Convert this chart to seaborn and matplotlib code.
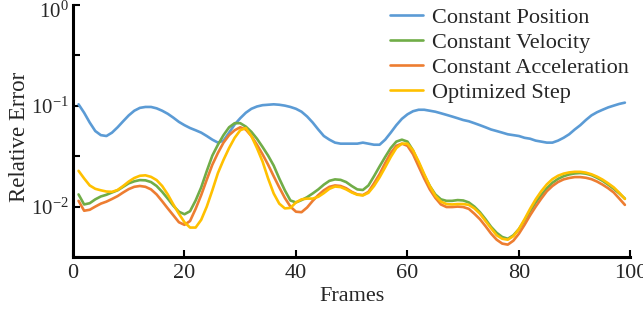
import numpy as np
import pandas as pd
import seaborn as sns
import matplotlib.pyplot as plt
from matplotlib.ticker import FixedLocator, FuncFormatter
from matplotlib.transforms import ScaledTranslation

# one value per frame, 1..99
frames = list(range(1, 100))

constant_position = [
    0.103, 0.085, 0.068, 0.056, 0.051, 0.050, 0.054, 0.061, 0.070, 0.080,
    0.089, 0.095, 0.097, 0.097, 0.094, 0.089, 0.083, 0.076, 0.069, 0.064,
    0.060, 0.057, 0.054, 0.050, 0.046, 0.043, 0.045, 0.054, 0.065, 0.075,
    0.085, 0.093, 0.098, 0.101, 0.102, 0.103, 0.102, 0.100, 0.097, 0.093,
    0.087, 0.078, 0.068, 0.058, 0.050, 0.046, 0.043, 0.042, 0.042, 0.042,
    0.042, 0.043, 0.042, 0.041, 0.041, 0.046, 0.054, 0.064, 0.074, 0.082,
    0.088, 0.091, 0.091, 0.089, 0.087, 0.084, 0.081, 0.078, 0.075, 0.072,
    0.070, 0.067, 0.064, 0.061, 0.058, 0.056, 0.054, 0.052, 0.051, 0.050,
    0.048, 0.047, 0.045, 0.044, 0.043, 0.043, 0.045, 0.048, 0.052, 0.058,
    0.064, 0.072, 0.080, 0.086, 0.091, 0.096, 0.100, 0.104, 0.107,
]
constant_velocity = [
    0.0132, 0.0105, 0.0108, 0.0118, 0.0126, 0.0131, 0.0138, 0.0145, 0.0157, 0.0170,
    0.0178, 0.0183, 0.0182, 0.0175, 0.0160, 0.0140, 0.0120, 0.0102, 0.0089, 0.0084,
    0.0090, 0.0115, 0.0155, 0.0225, 0.0320, 0.0410, 0.0510, 0.0610, 0.0670, 0.0670,
    0.0620, 0.0550, 0.0470, 0.0390, 0.0320, 0.0255, 0.0190, 0.0145, 0.0115, 0.0110,
    0.0116, 0.0124, 0.0135, 0.0148, 0.0165, 0.0180, 0.0186, 0.0184, 0.0175, 0.0160,
    0.0148, 0.0146, 0.0162, 0.0200, 0.0250, 0.0310, 0.0380, 0.0440, 0.0460, 0.0440,
    0.0360, 0.0270, 0.0205, 0.0160, 0.0132, 0.0118, 0.0114, 0.0114, 0.0116, 0.0115,
    0.0110, 0.0100, 0.0088, 0.0075, 0.0063, 0.0055, 0.0050, 0.0048, 0.0052, 0.0060,
    0.0073, 0.0090, 0.0110, 0.0130, 0.0152, 0.0172, 0.0188, 0.0200, 0.0208, 0.0213,
    0.0215, 0.0212, 0.0205, 0.0193, 0.0180, 0.0165, 0.0150, 0.0135, 0.0120,
]
constant_acceleration = [
    0.0114, 0.0091, 0.0093, 0.0100, 0.0107, 0.0112, 0.0119, 0.0127, 0.0138, 0.0149,
    0.0157, 0.0160, 0.0157, 0.0148, 0.0132, 0.0113, 0.0096, 0.0082, 0.0070, 0.0066,
    0.0072, 0.0095, 0.0130, 0.0185, 0.0260, 0.0340, 0.0430, 0.0510, 0.0570, 0.0610,
    0.0580, 0.0500, 0.0410, 0.0330, 0.0260, 0.0200, 0.0155, 0.0122, 0.0100, 0.0089,
    0.0088, 0.0098, 0.0114, 0.0130, 0.0145, 0.0157, 0.0162, 0.0160, 0.0152, 0.0140,
    0.0132, 0.0130, 0.0140, 0.0170, 0.0210, 0.0270, 0.0340, 0.0400, 0.0420, 0.0400,
    0.0330, 0.0250, 0.0190, 0.0148, 0.0122, 0.0105, 0.0099, 0.0099, 0.0100, 0.0099,
    0.0095, 0.0085, 0.0075, 0.0064, 0.0054, 0.0047, 0.0043, 0.0042, 0.0046, 0.0054,
    0.0066, 0.0082, 0.0100, 0.0120, 0.0142, 0.0160, 0.0175, 0.0186, 0.0192, 0.0196,
    0.0196, 0.0193, 0.0187, 0.0177, 0.0165, 0.0152, 0.0138, 0.0120, 0.0104,
]
optimized_step = [
    0.0226, 0.0190, 0.0162, 0.0150, 0.0145, 0.0141, 0.0140, 0.0146, 0.0160, 0.0177,
    0.0192, 0.0202, 0.0204, 0.0197, 0.0183, 0.0160, 0.0132, 0.0105, 0.0085, 0.0070,
    0.0062, 0.0062, 0.0074, 0.0100, 0.0145, 0.0215, 0.0290, 0.0380, 0.0480, 0.0570,
    0.0600, 0.0500, 0.0380, 0.0280, 0.0190, 0.0135, 0.0107, 0.0096, 0.0097, 0.0110,
    0.0118, 0.0120, 0.0120, 0.0125, 0.0136, 0.0150, 0.0158, 0.0156, 0.0148, 0.0138,
    0.0131, 0.0129, 0.0137, 0.0160, 0.0195, 0.0245, 0.0310, 0.0380, 0.0420, 0.0420,
    0.0360, 0.0280, 0.0210, 0.0160, 0.0128, 0.0112, 0.0106, 0.0105, 0.0106, 0.0106,
    0.0104, 0.0096, 0.0085, 0.0072, 0.0061, 0.0052, 0.0048, 0.0047, 0.0051, 0.0060,
    0.0075, 0.0095, 0.0118, 0.0142, 0.0166, 0.0187, 0.0202, 0.0212, 0.0218, 0.0221,
    0.0221, 0.0217, 0.0209, 0.0198, 0.0185, 0.0170, 0.0155, 0.0137, 0.0119,
]

series_names = ['Constant Position', 'Constant Velocity', 'Constant Acceleration', 'Optimized Step']
series_colors = ['#5B9BD5', '#70AD47', '#ED7D31', '#FFC000']
x_ticks = [0, 20, 40, 60, 80, 100]
y_major = [1e-2, 1e-1, 1e0]
y_minor = [10 ** -2.5, 10 ** -1.5, 10 ** -0.5]

df = pd.DataFrame({
    'Frames': frames * 4,
    'Relative Error': constant_position + constant_velocity + constant_acceleration + optimized_step,
    'Method': sum([[n] * len(frames) for n in series_names], []),
})

sns.set_style("ticks")
plt.rcParams['font.family'] = ['Liberation Serif', 'DejaVu Serif']
plt.rcParams['mathtext.fontset'] = 'custom'
plt.rcParams['mathtext.rm'] = 'Liberation Serif'
plt.rcParams['mathtext.it'] = 'Liberation Serif'

fig = plt.figure(figsize=(6.43, 3.09), dpi=100)
ax = fig.add_axes([0.1135, 0.168, 0.867, 0.817])

sns.lineplot(data=df, x='Frames', y='Relative Error', hue='Method',
             palette=dict(zip(series_names, series_colors)), linewidth=1.9, ax=ax)

ax.set_yscale('log')
ax.set_xlim(0, 100)
ax.set_ylim(10 ** -2.5, 1)
ax.set_xticks(x_ticks)
ax.yaxis.set_major_locator(FixedLocator(y_major))
ax.yaxis.set_minor_locator(FixedLocator(y_minor))
ax.yaxis.set_major_formatter(FuncFormatter(lambda v, p: r'$\mathregular{10^{%d}}$' % round(np.log10(v))))
ax.yaxis.set_minor_formatter(FuncFormatter(lambda v, p: ''))

for s in ['top', 'right']:
    ax.spines[s].set_visible(False)
for s in ['left', 'bottom']:
    ax.spines[s].set_linewidth(2.2)
    ax.spines[s].set_color('black')

ax.tick_params(which='both', direction='in', length=5, width=1.5, color='black')
ax.tick_params(axis='x', pad=5, labelsize=16)
ax.tick_params(axis='y', pad=3, labelsize=15)
ax.set_xlabel('Frames', fontsize=16, labelpad=3)
ax.set_ylabel('Relative Error', fontsize=16.5)
ax.yaxis.set_label_coords(-0.077, 0.477)

# the top label (10^0) sits a little below its tick, as in the reference
top_label = ax.yaxis.get_major_ticks()[-1].label1
top_label.set_transform(top_label.get_transform() + ScaledTranslation(0, -4 / 72, fig.dpi_scale_trans))

ax.legend(loc='upper right', frameon=False, fontsize=16, handlelength=1.5,
          handletextpad=0.4, labelspacing=0.2, borderaxespad=0.0,
          bbox_to_anchor=(1.013, 1.024))

fig.savefig('out.png', dpi=100)
